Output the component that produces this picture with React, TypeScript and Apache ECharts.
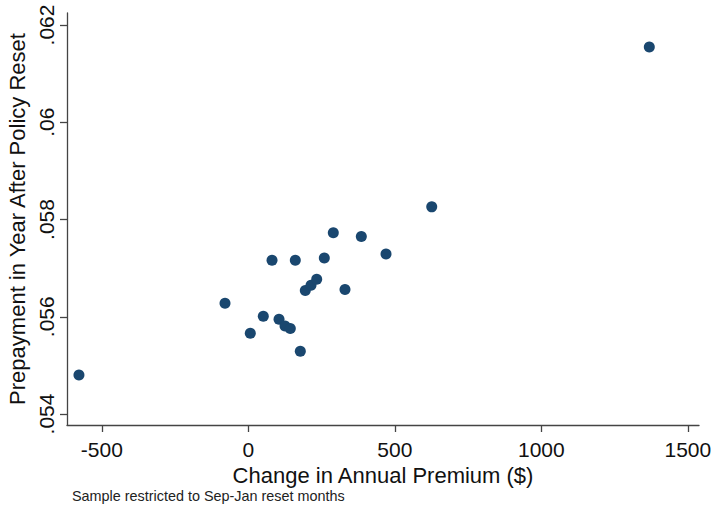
import React, { useEffect, useRef } from "react";
import * as echarts from "echarts";

// Change in annual premium ($) and prepayment rate in the following year
const premiumChange = [
  -578, -79.5, 6.8, 51.2, 80.9, 104.8, 125.3, 143.3, 177.5, 160.4,
  194.5, 214, 233.4, 259.4, 290.1, 330, 385.7, 470, 626, 1368.6,
];
const prepayment = [
  0.0548, 0.05628, 0.05566, 0.05601, 0.05716, 0.05595, 0.05581, 0.05576, 0.05529, 0.05716,
  0.05654, 0.05665, 0.05677, 0.05721, 0.05773, 0.05656, 0.05765, 0.05729, 0.05826, 0.06155,
];

const xTicks = [-500, 0, 500, 1000, 1500];
const yTicks = [0.054, 0.056, 0.058, 0.06, 0.062];

const xTitle = "Change in Annual Premium ($)";
const yTitle = "Prepayment in Year After Policy Reset";
const note = "Sample restricted to Sep-Jan reset months";

const FONT = "Liberation Sans, Arial, sans-serif";
const AXIS_COLOR = "#444";

export default function App() {
  const ref = useRef<HTMLDivElement>(null);

  useEffect(() => {
    if (!ref.current) return;
    const chart = echarts.init(ref.current, undefined, { renderer: "svg" });
    const points = premiumChange.map((x, i) => [x, prepayment[i]]);

    chart.setOption({
      animation: false,
      backgroundColor: "#ffffff",
      textStyle: { fontFamily: FONT },
      grid: {
        left: 67,
        right: 13,
        top: 13,
        bottom: 83,
        containLabel: false,
        outerBoundsMode: "none",
      },
      xAxis: {
        type: "value",
        min: -618.8,
        max: 1538.2,
        name: xTitle,
        nameLocation: "middle",
        nameGap: 33,
        nameTextStyle: { fontSize: 22, color: "#111", fontFamily: FONT },
        axisLine: { show: true, onZero: false, lineStyle: { color: AXIS_COLOR, width: 1.3 } },
        axisTick: {
          show: true,
          length: 7,
          customValues: xTicks,
          lineStyle: { color: AXIS_COLOR, width: 1.3 },
        },
        axisLabel: {
          customValues: xTicks,
          margin: 14,
          fontSize: 21,
          color: "#111",
          fontFamily: FONT,
          formatter: (v: number) => String(v),
        },
        splitLine: { show: false },
      },
      yAxis: {
        type: "value",
        min: 0.053774,
        max: 0.062247,
        name: yTitle,
        nameLocation: "middle",
        nameGap: 35,
        nameTextStyle: { fontSize: 22, color: "#111", fontFamily: FONT },
        axisLine: { show: true, onZero: false, lineStyle: { color: AXIS_COLOR, width: 1.3 } },
        axisTick: {
          show: true,
          length: 7,
          customValues: yTicks,
          lineStyle: { color: AXIS_COLOR, width: 1.3 },
        },
        axisLabel: {
          customValues: yTicks,
          rotate: 90,
          margin: 10,
          fontSize: 21,
          color: "#111",
          fontFamily: FONT,
          formatter: (v: number) => String(+v.toFixed(3)).replace(/^0\./, "."),
        },
        splitLine: { show: false },
      },
      graphic: [
        {
          type: "text",
          left: 72,
          top: 489,
          style: { text: note, fontSize: 14.4, fontFamily: FONT, fill: "#222" },
        },
      ],
      series: [
        {
          type: "scatter",
          data: points,
          symbol: "circle",
          symbolSize: 11,
          itemStyle: { color: "#1a476f", opacity: 1 },
        },
      ],
    });

    return () => chart.dispose();
  }, []);

  return (
    <div
      ref={ref}
      style={{ position: "fixed", left: 0, top: 0, width: 712, height: 508, background: "#fff" }}
    />
  );
}
